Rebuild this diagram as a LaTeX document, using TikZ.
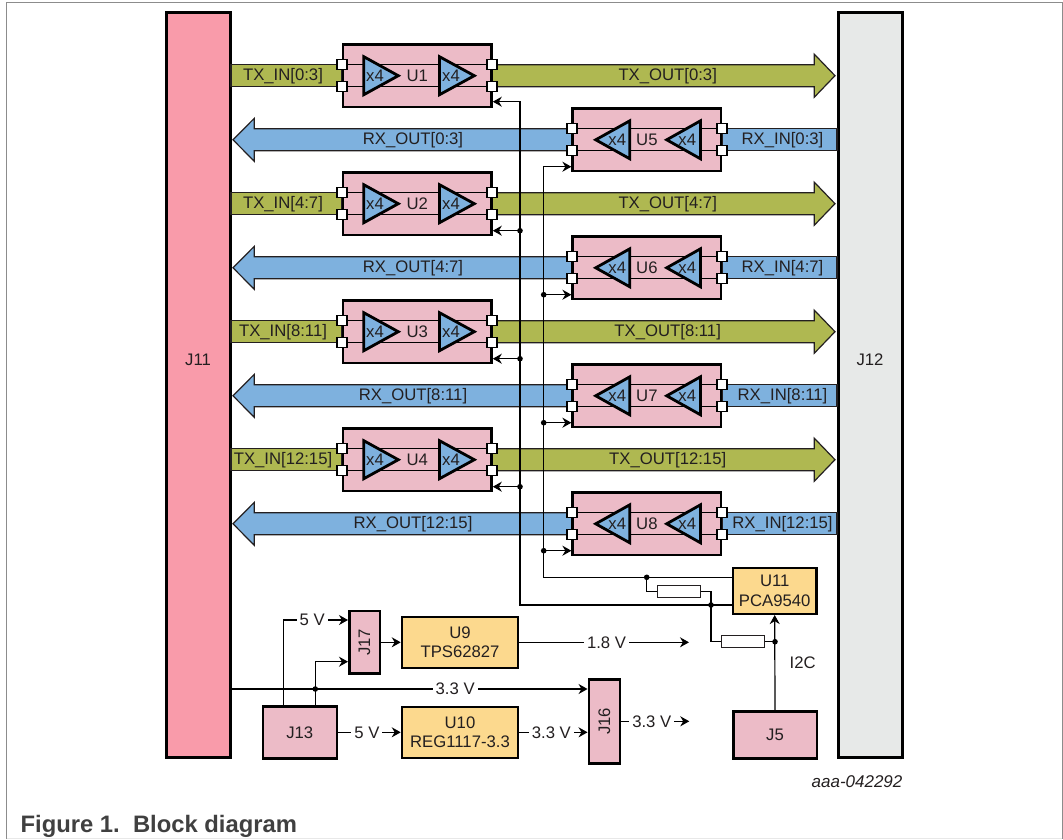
\documentclass[tikz,border=0pt]{standalone}
\usepackage{fontspec}
\setmainfont{Liberation Sans}
\usetikzlibrary{arrows.meta}
\definecolor{conpink}{HTML}{F99BAA}
\definecolor{congray}{HTML}{E7E9E8}
\definecolor{boxpink}{HTML}{ECBBC7}
\definecolor{boxyellow}{HTML}{FCD98E}
\definecolor{txgreen}{HTML}{AFB851}
\definecolor{rxblue}{HTML}{7EB1DE}
\definecolor{inkcol}{HTML}{231F20}
\tikzset{
  txt/.style={font=\fontsize{16.7}{19.5}\selectfont,text=inkcol},
  block/.style={draw=black,line width=2.5pt,inner sep=0pt,align=center,txt},
  port/.style={draw=black,fill=white,line width=1.3pt,minimum size=10pt,inner sep=0pt},
  res/.style={draw=inkcol,fill=white,line width=1.2pt,minimum width=43pt,minimum height=12pt,inner sep=0pt},
  bus/.style={draw=inkcol,line width=1.2pt,line join=miter},
  tri/.style={draw=black,fill=rxblue,line width=2.8pt,line join=miter},
  vlbl/.style={txt,fill=white,inner xsep=3pt,inner ysep=1pt,text height=11.5pt,text depth=0pt},
  dot/.style={fill=black}
}
\begin{document}
\begin{tikzpicture}[x=1pt,y=-1pt,line width=1.2pt,>={Stealth[length=9pt,width=10pt]}]
\useasboundingbox (0,0) rectangle (1063,839);
% ---------- frame ----------
\draw[gray!90,line width=1pt] (6.5,839) -- (6.5,2.5) -- (1062,2.5) -- (1062,839);
\draw[gray!18,line width=1pt] (6.5,838) -- (1062,838);
% ---------- connectors J11 / J12 ----------
\node[block,fill=conpink,minimum width=64pt,minimum height=745pt] (J11) at (198.5,385) {};
\node[block,fill=congray,minimum width=64pt,minimum height=745pt] (J12) at (870.5,385) {};
\node[txt] (J11lab) at (198,360) {J11};
\node[txt] (J12lab) at (870,360) {J12};
% ---------- TX channels ----------
\foreach \n/\y/\rng in {1/75.7/0:3,2/203.7/4:7,3/331.7/8:11,4/459.7/12:15}{
  \pgfmathsetmacro{\ya}{\y-11}
  \pgfmathsetmacro{\yb}{\y+11}
  \pgfmathsetmacro{\yt}{\y-21.5}
  \pgfmathsetmacro{\yd}{\y+21.5}
  \pgfmathsetmacro{\ybase}{\y+5}
  \draw[bus,fill=txgreen] (231,\ya) rectangle (342,\yb);
  \draw[bus,fill=txgreen] (492,\ya) -- (814.3,\ya) -- (814.3,\yt) -- (835,\y) -- (814.3,\yd)
    -- (814.3,\yb) -- (492,\yb) -- cycle;
  \node[txt,anchor=base] (txin\n) at (283,\ybase) {TX\_IN[\rng]};
  \node[txt,anchor=base] (txout\n) at (667.7,\ybase) {TX\_OUT[\rng]};
  \node[block,fill=boxpink,minimum width=148.5pt,minimum height=62.5pt] (U\n) at (417.3,\y) {U\n};
  \node[port] (U\n-la) at (342,\ya) {};
  \node[port] (U\n-lb) at (342,\yb) {};
  \node[port] (U\n-ra) at (492,\ya) {};
  \node[port] (U\n-rb) at (492,\yb) {};
  \draw (U\n-la) -- (U\n-ra);
  \draw (U\n-lb) -- (U\n-rb);
  \begin{scope}[shift={(417.3,\y)}]
    \draw[tri] (-53.5,-19) -- (-19,0) -- (-53.5,19) -- cycle;
    \draw[tri] (22.2,-19) -- (57,0) -- (22.2,19) -- cycle;
  \end{scope}
  \node[txt] (U\n-xa) at (375,\y) {x4};
  \node[txt] (U\n-xb) at (451,\y) {x4};
}
% ---------- RX channels ----------
\foreach \n/\y/\rng in {5/139.8/0:3,6/267.8/4:7,7/395.8/8:11,8/523.8/12:15}{
  \pgfmathsetmacro{\ya}{\y-11}
  \pgfmathsetmacro{\yb}{\y+11}
  \pgfmathsetmacro{\yt}{\y-21.5}
  \pgfmathsetmacro{\yd}{\y+21.5}
  \pgfmathsetmacro{\ybase}{\y+5}
  \draw[bus,fill=rxblue] (572,\ya) -- (254.3,\ya) -- (254.3,\yt) -- (233,\y) -- (254.3,\yd)
    -- (254.3,\yb) -- (572,\yb) -- cycle;
  \draw[bus,fill=rxblue] (722,\ya) rectangle (837,\yb);
  \node[txt,anchor=base] (rxout\n) at (413,\ybase) {RX\_OUT[\rng]};
  \node[txt,anchor=base] (rxin\n) at (782.5,\ybase) {RX\_IN[\rng]};
  \node[block,fill=boxpink,minimum width=148.5pt,minimum height=62.5pt] (U\n) at (646.9,\y) {U\n};
  \node[port] (U\n-la) at (572,\ya) {};
  \node[port] (U\n-lb) at (572,\yb) {};
  \node[port] (U\n-ra) at (722,\ya) {};
  \node[port] (U\n-rb) at (722,\yb) {};
  \draw (U\n-la) -- (U\n-ra);
  \draw (U\n-lb) -- (U\n-rb);
  \begin{scope}[shift={(646.7,\y)}]
    \draw[tri] (-51,0) -- (-16.9,-19) -- (-16.9,19) -- cycle;
    \draw[tri] (20,0) -- (53.8,-19) -- (53.8,19) -- cycle;
  \end{scope}
  \node[txt] (U\n-xa) at (617.3,\y) {x4};
  \node[txt] (U\n-xb) at (687.3,\y) {x4};
}
% ---------- lower blocks ----------
\node[block,fill=boxyellow,minimum width=83.5pt,minimum height=46pt] (U11) at (774.7,590.8) {U11\\PCA9540};
\node[block,fill=boxyellow,minimum width=116pt,minimum height=51pt] (U9) at (460,642.3) {U9\\TPS62827};
\node[block,fill=boxyellow,minimum width=116pt,minimum height=51pt] (U10) at (460,732.3) {U10\\REG1117-3.3};
\node[block,fill=boxpink,minimum width=74pt,minimum height=52pt] (J13) at (299.8,732.3) {J13};
\node[block,fill=boxpink,minimum width=83.5pt,minimum height=47pt] (J5) at (775,735) {J5};
\node[block,fill=boxpink,minimum width=30.5pt,minimum height=62.5pt] (J17) at (364.5,642.3) {\rotatebox{90}{J17}};
\node[block,fill=boxpink,minimum width=31pt,minimum height=84pt] (J16) at (604.3,721.3) {\rotatebox{90}{J16}};
\node[res] (R1) at (679,591.3) {};
\node[res] (R2) at (742.7,641.7) {};
% ---------- I2C lines ----------
\coordinate (sda) at (520,605);
\coordinate (scl) at (543.7,577.3);
\coordinate (sdatop) at (520,101.7);
\coordinate (scltop) at (543.7,166.7);
\draw[->] (U11.west |- sda) -- (sda) -- (sdatop) -- (U1.east |- sdatop);
\draw[->] (U11.west |- scl) -- (scl) -- (scltop) -- (U5.west |- scltop);
\foreach \n/\y in {2/230.7,3/358.7,4/486.7}{
  \coordinate (ctl\n) at (520,\y);
  \fill[dot] (ctl\n) circle (2.8);
  \draw[->] (ctl\n) -- (U\n.east |- ctl\n);
}
\foreach \n/\y in {6/294.7,7/422.7,8/550.7}{
  \coordinate (ctl\n) at (543.7,\y);
  \fill[dot] (ctl\n) circle (2.8);
  \draw[->] (ctl\n) -- (U\n.west |- ctl\n);
}
% pull-ups
\coordinate (ja) at (646.7,577.3);
\coordinate (jb) at (711,605);
\coordinate (jc) at (775,641.7);
\fill[dot] (ja) circle (2.8);
\fill[dot] (jb) circle (2.8);
\fill[dot] (jc) circle (2.8);
\draw (ja) |- (R1.west);
\draw (R1.east) -| (jb);
\draw (jb) |- (R2.west);
\draw (R2.east) -- (jc);
\draw[->] (J5.north) -- (U11.south);
\node[txt] (i2c) at (802.7,662.7) {I2C};
% ---------- power ----------
\coordinate (v33) at (315.3,689);
\coordinate (v18) at (689,642.3);
\coordinate (v33out) at (689.3,721.3);
\fill[dot] (v33) circle (2.8);
\draw[->] (J11.east |- v33) -- (J16.west |- v33) node[vlbl,pos=0.628] (v33a) {3.3 V};
\draw[->] (J13.north -| v33) |- (J17.west |- 0,661.7);
\draw[->] (283.3,0 |- J13.north) |- (J17.west |- 0,620) node[vlbl,pos=0.723] (v5a) {5 V};
\draw[->] (J17.east) -- (U9.west);
\draw[->] (U9.east) -- (v18) node[vlbl,pos=0.514] (v18a) {1.8 V};
\draw[->] (J13.east) -- (U10.west) node[vlbl,pos=0.46] (v5b) {5 V};
\draw[->] (U10.east) -- (J16.west |- U10.east) node[vlbl,pos=0.47] (v33b) {3.3 V};
\draw[->] (J16.east) -- (v33out) node[vlbl,pos=0.45] (v33c) {3.3 V};
% ---------- caption ----------
\node[anchor=base east,font=\fontsize{17}{19}\selectfont\itshape,text=inkcol,inner sep=0pt] (figid) at (903,787) {aaa-042292};
\node[anchor=base west,font=\fontsize{23.8}{26}\selectfont\bfseries,text=black!75,inner sep=0pt] (figcap) at (20,832) {Figure 1.\ \ Block diagram};
\end{tikzpicture}
\end{document}
